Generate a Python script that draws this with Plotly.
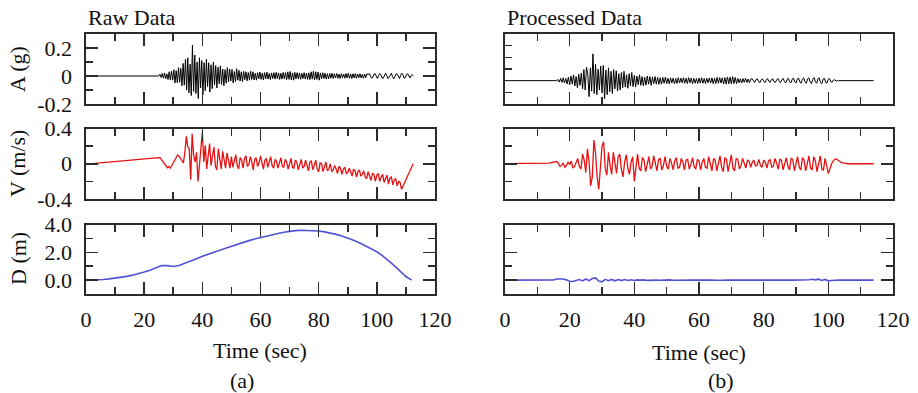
import numpy as np
import plotly.graph_objects as go

# ---------------- data ----------------
TIME_TICKS = [0, 20, 40, 60, 80, 100, 120]
TIME_LABELS = ["0", "20", "40", "60", "80", "100", "120"]

# Raw acceleration (g): quiet until 25 s, samples every 0.4 s afterwards
RAW_A_PRE_T = [0.0]
RAW_A_PRE = [0.0]
RAW_A_T0, RAW_A_DT = 25.0, 0.4
RAW_A = [
    0.000, 0.012, -0.010, 0.018, -0.015, 0.022, -0.020, 0.015, -0.025, 0.030,
    -0.028, 0.035, -0.030, 0.045, -0.050, 0.038, -0.048, 0.060, -0.045, 0.055,
    -0.070, 0.090, -0.065, 0.120, -0.100, 0.130, -0.120, 0.085, -0.140, 0.220,
    -0.110, 0.150, -0.125, 0.100, -0.160, 0.130, -0.085, 0.110, -0.135, 0.095,
    -0.105, 0.120, -0.075, 0.095, -0.115, 0.080, -0.090, 0.100, -0.065, 0.075,
    -0.085, 0.062, -0.055, 0.072, -0.060, 0.050, -0.070, 0.045, -0.052, 0.060,
    -0.042, 0.050, -0.036, 0.046, -0.050, 0.032, -0.040, 0.052, -0.030, 0.040,
    -0.036, 0.030, -0.040, 0.034, -0.026, 0.030, -0.034, 0.025, -0.030, 0.034,
    -0.025, 0.030, -0.028, 0.020, -0.030, 0.024, -0.020, 0.028, -0.024, 0.020,
    -0.028, 0.024, -0.020, 0.028, -0.022, 0.018, -0.026, 0.022, -0.018, 0.024,
    -0.022, 0.026, -0.018, 0.022, -0.025, 0.020, -0.022, 0.026, -0.020, 0.024,
    -0.026, 0.030, -0.024, 0.032, -0.028, 0.022, -0.030, 0.026, -0.020, 0.024,
    -0.020, 0.022, -0.024, 0.020, -0.018, 0.024, -0.022, 0.020, -0.024, 0.022,
    -0.026, 0.030, -0.022, 0.034, -0.028, 0.030, -0.024, 0.028, -0.030, 0.022,
    -0.020, 0.024, -0.018, 0.020, -0.022, 0.016, -0.020, 0.018, -0.016, 0.020,
    -0.018, 0.016, -0.014, 0.018, -0.016, 0.014, -0.018, 0.016, -0.012, 0.014,
    -0.016, 0.018, -0.014, 0.020, -0.016, 0.014, -0.018, 0.016, -0.014, 0.018,
    -0.016, 0.014, -0.012, 0.016, -0.014, 0.012, -0.016, 0.014, -0.012, 0.016,
    0.010, 0.018, 0.004, -0.016, -0.010, 0.014, 0.016, -0.006, -0.018, 0.004,
    0.018, 0.008, -0.014, -0.016, 0.006, 0.020, 0.004, -0.018, -0.010, 0.012,
    0.020, -0.004, -0.020, -0.006, 0.016, 0.014, -0.010, -0.018, 0.006, 0.020,
    0.008, -0.016, -0.012, 0.012, 0.016, -0.006, -0.014, 0.004, 0.008, 0.000,
]

# Raw velocity (m/s)
RAW_V_PRE_T = [0.0, 3.0]
RAW_V_PRE = [0.0, 0.005]
RAW_V_T0, RAW_V_DT = 25.0, 0.5
RAW_V = [
    0.070, 0.068, 0.045, 0.020, 0.000, -0.030, -0.045, -0.030, -0.050, -0.020,
    0.010, 0.040, 0.070, 0.100, 0.085, 0.060, 0.030, 0.010, 0.130, 0.310,
    0.190, 0.170, -0.180, 0.340, 0.100, 0.020, 0.130, -0.200, -0.020, 0.150,
    0.360, 0.020, 0.210, -0.060, 0.100, 0.230, -0.020, 0.080, 0.190, -0.030,
    -0.070, 0.170, 0.020, -0.060, 0.140, 0.060, -0.050, 0.120, 0.010, -0.050,
    0.080, -0.040, 0.030, 0.100, -0.020, -0.060, 0.070, 0.040, -0.050, 0.060,
    0.090, -0.030, -0.010, 0.080, 0.020, -0.070, 0.050, 0.070, -0.030, 0.010,
    0.090, 0.000, -0.060, 0.040, 0.060, -0.040, 0.020, 0.080, -0.020, -0.050,
    0.050, 0.030, -0.050, 0.010, 0.070, -0.030, -0.040, 0.050, 0.020, -0.060,
    0.020, 0.060, -0.040, -0.050, 0.040, 0.020, -0.070, 0.010, 0.050, -0.050,
    -0.030, 0.040, -0.010, -0.080, 0.020, 0.030, -0.070, -0.020, 0.040, -0.060,
    -0.090, 0.010, 0.000, -0.090, -0.030, 0.020, -0.080, -0.060, 0.000, -0.090,
    -0.070, -0.020, -0.060, -0.110, -0.030, -0.050, -0.120, -0.060, -0.040, -0.110,
    -0.100, -0.050, -0.090, -0.140, -0.060, -0.080, -0.150, -0.090, -0.070, -0.140,
    -0.120, -0.080, -0.150, -0.170, -0.090, -0.130, -0.190, -0.110, -0.120, -0.200,
    -0.130, -0.110, -0.200, -0.150, -0.120, -0.210, -0.170, -0.130, -0.230, -0.160,
    -0.150, -0.240, -0.180, -0.170, -0.250, -0.200, -0.210, -0.290,
]
RAW_V_TAIL_T = [112.5]
RAW_V_TAIL = [0.0]

# Raw displacement (m), every 2 s
RAW_D_T0, RAW_D_DT = 0.0, 2.0
RAW_D = [
    0.00, 0.00, 0.02, 0.05, 0.09, 0.14, 0.20, 0.27, 0.36, 0.46,
    0.58, 0.72, 0.88, 1.05, 1.05, 0.98, 1.05, 1.20, 1.38, 1.55,
    1.72, 1.85, 2.00, 2.15, 2.30, 2.45, 2.60, 2.72, 2.85, 2.97,
    3.08, 3.18, 3.28, 3.37, 3.45, 3.52, 3.57, 3.60, 3.60, 3.58,
    3.55, 3.48, 3.40, 3.30, 3.18, 3.05, 2.88, 2.70, 2.50, 2.28,
    2.05, 1.75, 1.42, 1.05, 0.65, 0.26, 0.00,
]

# Processed acceleration (g)
PROC_A_PRE_T = [0.0]
PROC_A_PRE = [0.0]
PROC_A_T0, PROC_A_DT = 16.0, 0.4
PROC_A = [
    0.000, 0.010, -0.012, 0.020, -0.015, 0.025, -0.020, 0.018, -0.028, 0.030,
    -0.035, 0.040, -0.030, 0.050, -0.045, 0.035, -0.060, 0.055, -0.040, 0.065,
    -0.070, 0.095, -0.080, 0.115, 0.060, -0.137, 0.110, -0.090, 0.230, -0.110,
    0.140, -0.120, 0.100, -0.080, 0.125, -0.105, 0.130, -0.155, 0.090, -0.120,
    0.110, -0.095, 0.080, -0.110, 0.095, -0.070, 0.085, -0.090, 0.060, -0.080,
    0.070, -0.060, 0.080, -0.055, 0.050, -0.065, 0.060, -0.045, 0.070, -0.050,
    0.045, -0.055, 0.040, -0.035, 0.050, -0.040, 0.035, -0.045, 0.030, -0.038,
    0.040, -0.030, 0.035, -0.040, 0.030, -0.025, 0.035, -0.030, 0.028, -0.032,
    0.025, -0.030, 0.028, -0.022, 0.030, -0.025, 0.020, -0.028, 0.024, -0.020,
    0.022, -0.026, 0.018, -0.024, 0.026, -0.020, 0.022, -0.018, 0.025, -0.022,
    0.020, -0.024, 0.026, -0.018, 0.022, -0.026, 0.020, -0.022, 0.018, -0.024,
    0.022, -0.020, 0.025, -0.022, 0.018, -0.024, 0.020, -0.018, 0.024, -0.020,
    0.024, -0.026, 0.020, -0.024, 0.028, -0.022, 0.026, -0.020, 0.024, -0.028,
    0.026, -0.030, 0.032, -0.026, 0.030, -0.028, 0.034, -0.024, 0.028, -0.026,
    0.020, -0.018, 0.016, -0.020, 0.018, -0.014, 0.020, -0.016, 0.014, -0.018,
    0.012, 0.018, -0.006, -0.016, 0.008, 0.016, -0.004, -0.018, 0.006, 0.016,
    -0.002, -0.016, 0.004, 0.018, -0.006, -0.014, 0.010, 0.016, -0.008, -0.016,
    0.006, 0.018, -0.004, -0.018, 0.008, 0.020, -0.006, -0.020, 0.010, 0.020,
    -0.008, -0.020, 0.012, 0.022, -0.010, -0.020, 0.014, 0.022, -0.012, -0.022,
    0.014, 0.024, -0.010, -0.022, 0.016, 0.024, -0.014, -0.024, 0.012, 0.026,
    -0.010, -0.022, 0.018, 0.024, -0.016, -0.028, 0.014, 0.020, -0.018, -0.020,
    0.012, 0.018, -0.010, -0.012, 0.006, 0.008, -0.004, 0.002, 0.000, 0.000,
]
PROC_A_TAIL_T = [114.0]
PROC_A_TAIL = [0.0]

# Processed velocity (m/s)
PROC_V_PRE_T = [0.0]
PROC_V_PRE = [0.0]
PROC_V_T0, PROC_V_DT = 12.0, 0.5
PROC_V = [
    0.000, 0.000, 0.005, 0.008, 0.010, 0.012, 0.015, 0.020, 0.025, 0.005,
    -0.030, -0.020, 0.010, -0.040, -0.020, 0.020, -0.010, 0.030, -0.050, -0.030,
    0.020, 0.060, -0.030, -0.060, 0.110, 0.040, -0.100, 0.170, 0.020, -0.250,
    -0.150, 0.270, 0.120, -0.150, -0.290, 0.000, 0.200, 0.250, -0.050, -0.130,
    0.130, -0.020, -0.120, 0.130, 0.020, -0.110, 0.080, 0.110, -0.060, -0.150,
    0.020, 0.100, -0.050, -0.120, 0.020, 0.080, -0.200, -0.040, 0.110, -0.050,
    -0.080, 0.070, 0.040, -0.090, 0.010, 0.080, -0.060, -0.030, 0.090, -0.020,
    -0.080, 0.050, 0.060, -0.070, -0.020, 0.080, -0.030, -0.060, 0.060, 0.010,
    -0.070, 0.030, 0.070, -0.050, -0.040, 0.060, 0.020, -0.070, 0.040, 0.050,
    -0.060, -0.010, 0.070, -0.030, -0.060, 0.050, 0.030, -0.070, 0.020, 0.060,
    -0.040, -0.050, 0.080, 0.000, -0.080, 0.060, 0.040, -0.080, 0.010, 0.090,
    -0.040, -0.090, 0.070, 0.050, -0.090, 0.010, 0.100, -0.050, -0.080, 0.060,
    0.050, -0.060, -0.020, 0.060, 0.010, -0.050, 0.040, 0.030, -0.040, 0.020,
    0.040, -0.030, -0.010, 0.050, -0.020, -0.040, 0.040, 0.020, -0.050, 0.030,
    0.050, -0.040, -0.030, 0.060, 0.010, -0.060, 0.050, 0.040, -0.070, 0.010,
    0.070, -0.030, -0.070, 0.060, 0.050, -0.080, 0.000, 0.080, -0.040, -0.070,
    0.070, 0.040, -0.080, 0.010, 0.090, -0.050, -0.070, 0.080, 0.030, -0.090,
    0.020, 0.090, -0.060, -0.070, 0.060, -0.020, -0.110, -0.060, 0.000, 0.030,
    0.050, 0.055, 0.040, 0.025, 0.015, 0.010, 0.005, 0.002, 0.000, 0.000,
]
PROC_V_TAIL_T = [114.0]
PROC_V_TAIL = [0.0]

# Processed displacement (m), every 1 s
PROC_D_PRE_T = [0.0]
PROC_D_PRE = [0.0]
PROC_D_T0, PROC_D_DT = 14.0, 1.0
PROC_D = [
    0.00, 0.02, 0.08, 0.10, 0.08, 0.02, -0.08, -0.10, -0.04, 0.04,
    -0.06, 0.08, -0.04, 0.12, 0.16, -0.06, -0.12, 0.06, -0.04, 0.05,
    -0.05, 0.04, -0.03, 0.04, -0.02, 0.03, -0.02, 0.02, 0.00, 0.02,
    -0.02, 0.00, 0.02, 0.00, -0.01, 0.01, 0.00, 0.02, -0.01, 0.00,
    0.01, 0.00, -0.01, 0.01, 0.00, 0.00, 0.01, -0.01, 0.00, 0.01,
    0.00, -0.01, 0.01, 0.00, 0.00, 0.01, 0.00, -0.01, 0.00, 0.00,
    0.01, 0.00, 0.00, -0.01, 0.00, 0.01, 0.00, 0.00, 0.00, 0.01,
    0.00, -0.01, 0.00, 0.00, 0.01, 0.00, 0.00, 0.02, 0.00, -0.02,
    0.03, 0.06, 0.02, 0.07, -0.02, 0.05, -0.05, -0.03, 0.00, 0.00,
    0.00,
]
PROC_D_TAIL_T = [114.0]
PROC_D_TAIL = [0.0]


def series(t0, dt, vals, pre_t=(), pre_v=(), tail_t=(), tail_v=()):
    t = np.concatenate([np.asarray(pre_t, float),
                        t0 + dt * np.arange(len(vals)),
                        np.asarray(tail_t, float)])
    v = np.concatenate([np.asarray(pre_v, float), np.asarray(vals, float),
                        np.asarray(tail_v, float)])
    return t, v


# ---------------- styling ----------------
W, H = 918, 393
AX = "#2b2b2b"
SERIF = "Liberation Serif, Times New Roman, serif"
FONT = dict(family=SERIF, size=22, color="#111111")

BLACK = "#000000"
RED = "rgb(228,18,18)"
BLUE = "rgb(82,82,215)"


def px_x(p):
    return p / W


def px_y(p):
    return 1 - p / H


XL = [px_x(86), px_x(435)]
XR = [px_x(505), px_x(893)]
YA = [px_y(104), px_y(34)]
YV = [px_y(199), px_y(128.5)]
YD = [px_y(294), px_y(224.7)]

fig = go.Figure()


def add(t, v, color, width, xa, ya):
    fig.add_trace(go.Scatter(x=t, y=v, mode="lines",
                             line=dict(color=color, width=width),
                             xaxis=xa, yaxis=ya, hoverinfo="skip",
                             showlegend=False))


add(*series(RAW_A_T0, RAW_A_DT, RAW_A, RAW_A_PRE_T, RAW_A_PRE), BLACK, 1.0, "x", "y")
add(*series(PROC_A_T0, PROC_A_DT, PROC_A, PROC_A_PRE_T, PROC_A_PRE,
            PROC_A_TAIL_T, PROC_A_TAIL), BLACK, 1.0, "x2", "y2")
add(*series(RAW_V_T0, RAW_V_DT, RAW_V, RAW_V_PRE_T, RAW_V_PRE,
            RAW_V_TAIL_T, RAW_V_TAIL), RED, 1.3, "x3", "y3")
add(*series(PROC_V_T0, PROC_V_DT, PROC_V, PROC_V_PRE_T, PROC_V_PRE,
            PROC_V_TAIL_T, PROC_V_TAIL), RED, 1.3, "x4", "y4")
add(*series(RAW_D_T0, RAW_D_DT, RAW_D), BLUE, 1.6, "x5", "y5")
add(*series(PROC_D_T0, PROC_D_DT, PROC_D, PROC_D_PRE_T, PROC_D_PRE,
            PROC_D_TAIL_T, PROC_D_TAIL), BLUE, 1.6, "x6", "y6")

COMMON = dict(showline=True, linecolor=AX, linewidth=1.6, showgrid=False,
              zeroline=False, ticks="inside", ticklen=12, tickwidth=1.6,
              tickcolor=AX, tickfont=FONT, fixedrange=True, automargin=False)


def xax(domain, anchor, labels):
    d = dict(COMMON)
    d.update(domain=domain, anchor=anchor, range=[0, 120], tickmode="array",
             tickvals=TIME_TICKS, ticktext=TIME_LABELS, showticklabels=labels,
             mirror="ticks", ticklabelstandoff=5,
             minor=dict(ticks="inside", ticklen=7, tickwidth=1.6,
                        tickcolor=AX, tick0=0, dtick=10, showgrid=False))
    return d


def yax(domain, anchor, rng, vals, text, minor_dt, labels, mirror="ticks"):
    d = dict(COMMON)
    d.update(domain=domain, anchor=anchor, range=rng, tickmode="array",
             tickvals=vals, ticktext=text, showticklabels=labels,
             mirror=mirror, ticklabelstandoff=8,
             minor=dict(ticks="inside", ticklen=7, tickwidth=1.6,
                        tickcolor=AX, tick0=0, dtick=minor_dt, showgrid=False))
    return d


A_VALS, A_TEXT = [-0.2, 0, 0.2], ["-0.2", "0", "0.2"]
V_VALS, V_TEXT = [-0.4, 0, 0.4], ["-0.4", "0", "0.4"]
D_VALS, D_TEXT = [0, 2, 4], ["0.0", "2.0", "4.0"]

layout = dict(
    template="none",
    width=W, height=H, margin=dict(l=0, r=0, t=0, b=0, autoexpand=False),
    paper_bgcolor="white", plot_bgcolor="white", showlegend=False,
    xaxis=xax(XL, "y", False), yaxis=yax(YA, "x", [-0.2, 0.3], A_VALS, A_TEXT, 0.1, True),
    xaxis2=xax(XR, "y2", False),
    yaxis2=yax(YA, "x2", [-0.2, 0.4], [-0.2, 0, 0.2, 0.4], ["", "", "", ""], 0.1, False, mirror=True),
    xaxis3=xax(XL, "y3", False), yaxis3=yax(YV, "x3", [-0.4, 0.4], V_VALS, V_TEXT, 0.2, True),
    xaxis4=xax(XR, "y4", False), yaxis4=yax(YV, "x4", [-0.4, 0.4], V_VALS, V_TEXT, 0.2, False),
    xaxis5=xax(XL, "y5", True), yaxis5=yax(YD, "x5", [-1, 4], D_VALS, D_TEXT, 1, True),
    xaxis6=xax(XR, "y6", True), yaxis6=yax(YD, "x6", [-1, 4], D_VALS, D_TEXT, 1, False),
)
# right-hand ticks of the processed acceleration panel follow the raw scale
y7 = yax(YA, "x2", [-0.2, 0.3], A_VALS, A_TEXT, 0.1, False, mirror=False)
y7.update(overlaying="y2", side="right", showline=False)
layout["yaxis7"] = y7

ann = []


def text(s, x, y, xanchor="center", angle=0, size=22):
    ann.append(dict(text=s, x=px_x(x), y=px_y(y), xref="paper", yref="paper",
                    xanchor=xanchor, yanchor="middle", showarrow=False,
                    textangle=angle, font=dict(family=SERIF, size=size, color="#111111")))


text("Raw Data", 86, 18, xanchor="left")
text("Processed Data", 505, 18, xanchor="left")
text("A (g)", 18, 69, angle=-90)
text("V (m/s)", 18, 164, angle=-90)
text("D (m)", 18, 259, angle=-90)
text("Time (sec)", 260, 350)
text("Time (sec)", 699, 352)
text("(a)", 242, 380)
text("(b)", 721, 380)
layout["annotations"] = ann

fig.update_layout(**layout)
fig.write_html(
    "out.html",
    config={"displayModeBar": False, "staticPlot": True},
    post_script="document.body.style.margin='0';document.body.style.overflow='hidden';",
)
